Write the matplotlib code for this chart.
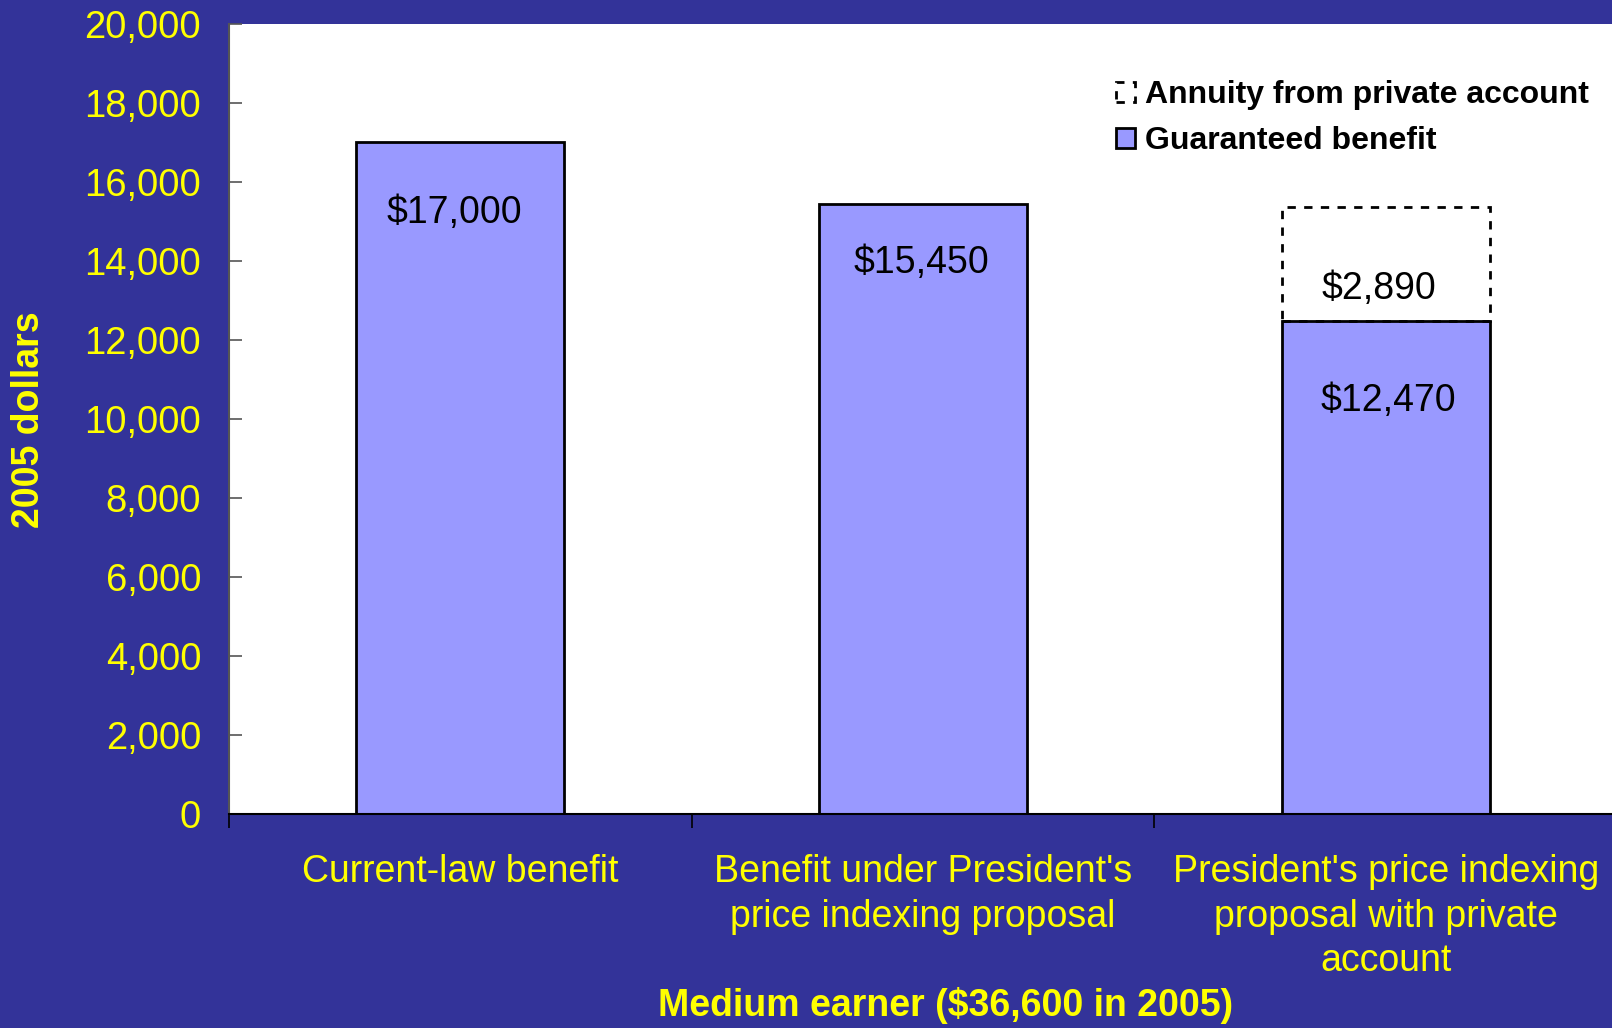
import matplotlib.pyplot as plt
import numpy as np

categories = ["Current-law benefit",
              "Benefit under President's\nprice indexing proposal",
              "President's price indexing\nproposal with private\naccount"]
guaranteed = [17000, 15450, 12470]
annuity = [0, 0, 2890]
guaranteed_labels = ["$17,000", "$15,450", "$12,470"]
annuity_labels = ["", "", "$2,890"]

bg = "#333399"
bar_color = "#9999FF"
yellow = "#FFFF00"
plt.rcParams['font.family'] = ['Liberation Sans', 'DejaVu Sans']

fig = plt.figure(figsize=(16.12, 10.28), dpi=100, facecolor=bg)
ax = fig.add_axes([229 / 1612, 1 - 814 / 1028, 1388 / 1612, 790 / 1028])
ax.set_facecolor("white")

x = np.arange(len(categories))
b1 = ax.bar(x, guaranteed, width=0.45, color=bar_color, edgecolor="black",
            linewidth=2, label="Guaranteed benefit", zorder=2)
b2 = ax.bar(x[2:], annuity[2:], bottom=guaranteed[2:], width=0.45, fill=False,
            edgecolor="black", linewidth=2, linestyle=(0, (3, 3)),
            label="Annuity from private account", zorder=3)

# value labels inside the bars
offsets = [51, 43, 57]
shifts = [-4, -1, 2]
for xi, v, lab, off, dx in zip(x, guaranteed, guaranteed_labels, offsets, shifts):
    ax.annotate(lab, (xi, v), xytext=(dx, -off), textcoords="offset points",
                ha="center", va="center", fontsize=27, color="black")
for xi, g, v, lab in zip(x, guaranteed, annuity, annuity_labels):
    if lab:
        ax.annotate(lab, (xi, g + v), xytext=(-5, -59), textcoords="offset points",
                    ha="center", va="center", fontsize=27, color="black")

ax.set_xlim(-0.5, 2.5)
ax.set_ylim(0, 20000)
ax.set_yticks(np.arange(0, 20001, 2000))
ax.set_yticklabels([f"{v:,}" for v in range(0, 20001, 2000)])
ax.tick_params(axis="y", direction="in", length=9, width=1.2, color="#555555",
               labelsize=27.5, labelcolor=yellow, pad=20)

ax.set_xticks([-0.5, 0.5, 1.5, 2.5])
ax.set_xticklabels([])
ax.set_xticks(x, minor=True)
ax.set_xticklabels(categories, minor=True, fontsize=27, color=yellow,
                   linespacing=1.3, va="top")
ax.tick_params(axis="x", which="major", direction="out", length=10, width=1.2,
               color="black")
ax.tick_params(axis="x", which="minor", length=0, pad=29)

for s in ["top", "right"]:
    ax.spines[s].set_visible(False)
ax.spines["left"].set_color("#555555")
ax.spines["left"].set_linewidth(1.5)
ax.spines["bottom"].set_color("black")
ax.spines["bottom"].set_linewidth(1.5)

leg = ax.legend(handles=[b2, b1], loc="upper left", bbox_to_anchor=(0.630, 0.945),
                frameon=False, prop={"weight": "bold", "size": 23},
                handlelength=0.6, handleheight=0.6, handletextpad=0.3,
                labelspacing=0.5, borderaxespad=0)

fig.text(946 / 1612, 1 - 1005 / 1028, "Medium earner ($36,600 in 2005)",
         ha="center", va="center", fontsize=27, fontweight="bold", color=yellow)
fig.text(29 / 1612, 1 - 420 / 1028, "2005 dollars", rotation=90,
         ha="center", va="center", fontsize=27, fontweight="bold", color=yellow)

fig.savefig("out.png", dpi=100, facecolor=bg)
